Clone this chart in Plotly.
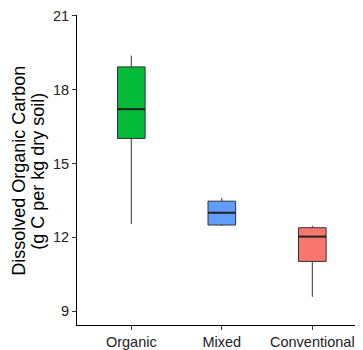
import plotly.graph_objects as go

categories = ["Organic", "Mixed", "Conventional"]
lower_whisker = [12.54, 12.46, 9.58]
q1 = [16.02, 12.50, 11.02]
median = [17.21, 13.00, 12.03]
q3 = [18.93, 13.47, 12.39]
upper_whisker = [19.39, 13.60, 12.47]
fill_colors = ["#00BA38", "#619CFF", "#F8766D"]
y_ticks = [9, 12, 15, 18, 21]
title_lines = ["Dissolved Organic Carbon", "(g C per kg dry soil)"]

BOX_W = 0.305
FONT = "Liberation Sans, Arial, sans-serif"

fig = go.Figure()
for i, cat in enumerate(categories):
    fig.add_trace(go.Box(
        x=[i], q1=[q1[i]], median=[median[i]], q3=[q3[i]],
        lowerfence=[lower_whisker[i]], upperfence=[upper_whisker[i]],
        width=BOX_W, whiskerwidth=0, boxpoints=False,
        fillcolor=fill_colors[i],
        line=dict(color="#333333", width=1),
        name=cat, showlegend=False, hoverinfo="skip",
    ))
    fig.add_shape(type="line", xref="x", yref="y",
                  x0=i - BOX_W / 2, x1=i + BOX_W / 2, y0=median[i], y1=median[i],
                  line=dict(color="#222222", width=2))

title_shifts = [-57.5, -38.5]
annotations = [
    dict(text=t, xref="paper", yref="paper", x=0, y=0.5, xshift=s, yshift=-1.3,
         textangle=-90, xanchor="center", yanchor="middle", showarrow=False,
         font=dict(size=18, color="black", family=FONT))
    for t, s in zip(title_lines, title_shifts)
]

# page body has an 8px margin, so the figure is offset by 8px
fig.update_layout(
    width=355, height=342,
    margin=dict(l=69, r=0, t=7, b=23),
    paper_bgcolor="white", plot_bgcolor="white",
    font=dict(family=FONT, color="#333333"),
    xaxis=dict(
        range=[-0.6, 2.56], tickmode="array", tickvals=list(range(len(categories))),
        ticktext=categories, showgrid=False, zeroline=False,
        showline=True, linecolor="black", linewidth=1,
        ticks="outside", ticklen=4, tickcolor="#333333",
        tickfont=dict(size=14.5, color="#222222", family=FONT),
    ),
    yaxis=dict(
        range=[8.435, 21.04], tickmode="array", tickvals=y_ticks,
        ticktext=[str(t) for t in y_ticks], showgrid=False, zeroline=False,
        showline=True, linecolor="black", linewidth=1,
        ticks="outside", ticklen=4, tickcolor="#333333",
        tickfont=dict(size=14.5, color="#222222", family=FONT),
    ),
    annotations=annotations,
)

fig.write_html("out.html")
